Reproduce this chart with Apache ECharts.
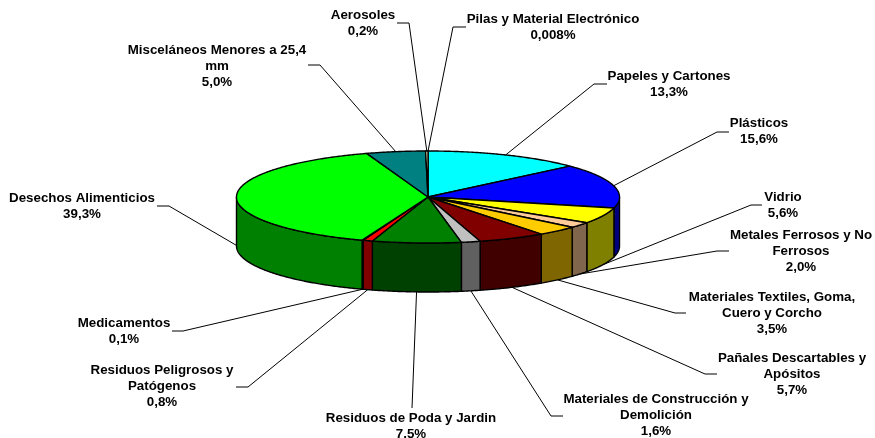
<!DOCTYPE html>
<html>
<head>
<meta charset="utf-8">
<title>Composicion de residuos</title>
<script src="https://cdn.jsdelivr.net/npm/echarts@6/dist/echarts.min.js"></script>
<style>
  html, body { margin: 0; padding: 0; background: #fff; }
  #main { width: 875px; height: 438px; }
</style>
</head>
<body>
<div id="main"></div>
<script>
// clockwise from 12 o'clock
var categories = [
  'Pilas y Material Electrónico', 'Papeles y Cartones', 'Plásticos', 'Vidrio',
  'Metales Ferrosos y No\nFerrosos', 'Materiales Textiles, Goma,\nCuero y Corcho',
  'Pañales Descartables y\nApósitos', 'Materiales de Construcción y\nDemolición',
  'Residuos de Poda y Jardin', 'Residuos Peligrosos y\nPatógenos', 'Medicamentos',
  'Desechos Alimenticios', 'Misceláneos Menores a 25,4\nmm', 'Aerosoles'
]
var values = [0.008, 13.3, 15.6, 5.6, 2.0, 3.5, 5.7, 1.6, 7.5, 0.8, 0.1, 39.3, 5.0, 0.2]
var topColors = ['#ffffcc', '#00ffff', '#0000ff', '#ffff00', '#ffcc99', '#ffcc00', '#800000',
  '#c0c0c0', '#008000', '#ff0000', '#800080', '#00ff00', '#008080', '#ffffcc']
var sideColors = ['#808066', '#008080', '#000080', '#808000', '#80664d', '#806600', '#400000',
  '#606060', '#004000', '#800000', '#400040', '#008000', '#004040', '#808066']

// label centre x, first line centre y, then leader elbow and leader end
var labelX = [553, 669, 759, 783, 801, 772, 792, 656, 411, 162, 124, 82, 217, 363]
var labelY = [19, 76, 123, 197, 235, 297, 358, 399, 418, 370, 323, 198, 50, 15]
var elbows = [[453, 27], [594, 84], [717, 132], [751, 205], [717, 251], [675, 313], [705, 374],
  [551, 416], [412, 408], [248, 387], [183, 331], [169, 206], [320, 65], [409, 23]]
var lineEnds = [[466, 27], [607, 84], [729, 132], [762, 205], [729, 251], [686, 313], [717, 374],
  [563, 416], [412, 408], [236, 387], [172, 331], [157, 206], [308, 65], [397, 23]]

var cx = 428, cy = 197, rx = 191.5, ry = 46, depth = 49
var total = values.reduce(function (a, b) { return a + b }, 0)

function arcPoint (deg, dy) {
  var t = deg * Math.PI / 180
  return [cx + rx * Math.sin(t), cy - ry * Math.cos(t) + (dy || 0)]
}

function startAngle (i) {
  var sum = 0
  for (var k = 0; k < i; k++) sum += values[k]
  return sum / total * 360
}

function arcPoints (from, to, dy) {
  var pts = []
  var steps = Math.max(1, Math.ceil((to - from) / 0.5))
  for (var s = 0; s <= steps; s++) pts.push(arcPoint(from + (to - from) * s / steps, dy))
  return pts
}

function percentText (v) {
  return (v < 0.01 ? v.toFixed(3) : v.toFixed(1)).replace('.', ',') + '%'
}

function renderSide (params, api) {
  var i = params.dataIndex
  var from = Math.max(startAngle(i), 90)
  var to = Math.min(startAngle(i) + api.value(0) / total * 360, 270)
  if (to <= from) return { type: 'group', children: [] }
  var pts = arcPoints(from, to, 0).concat(arcPoints(from, to, depth).reverse())
  return {
    type: 'polygon',
    shape: { points: pts },
    style: { fill: sideColors[i], stroke: '#000', lineWidth: 1.4, lineJoin: 'round' }
  }
}

function renderTop (params, api) {
  var i = params.dataIndex
  var from = startAngle(i)
  var to = from + api.value(0) / total * 360
  return {
    type: 'polygon',
    shape: { points: [[cx, cy]].concat(arcPoints(from, to, 0)) },
    style: { fill: topColors[i], stroke: '#000', lineWidth: 1.4, lineJoin: 'round' }
  }
}

function renderLeader (params, api) {
  var i = params.dataIndex
  var mid = startAngle(i) + api.value(0) / total * 180
  // the wall's left edge still carries the leader a few degrees past 270
  var front = mid > 90 && mid < 275
  var start = arcPoint(mid, front ? depth : 0)
  return {
    type: 'polyline',
    shape: { points: [start, elbows[i], lineEnds[i]] },
    style: { fill: null, stroke: '#000', lineWidth: 1 }
  }
}

function renderLabel (params, api) {
  var i = params.dataIndex
  return {
    type: 'text',
    style: {
      text: categories[i] + '\n' + percentText(api.value(0)),
      x: labelX[i],
      y: labelY[i] - 8,
      align: 'center',
      verticalAlign: 'top',
      lineHeight: 16,
      fill: '#000',
      font: 'bold 13.33px "Liberation Sans", Arial, sans-serif'
    }
  }
}

function layer (renderItem) {
  return {
    type: 'custom',
    coordinateSystem: 'none',
    silent: true,
    animation: false,
    data: values.map(function (v) { return [v] }),
    renderItem: renderItem
  }
}

var chart = echarts.init(document.getElementById('main'), null, { renderer: 'canvas' })
chart.setOption({
  backgroundColor: '#fff',
  animation: false,
  series: [layer(renderLeader), layer(renderSide), layer(renderTop), layer(renderLabel)]
})
window.addEventListener('resize', function () { chart.resize() })
</script>
</body>
</html>
